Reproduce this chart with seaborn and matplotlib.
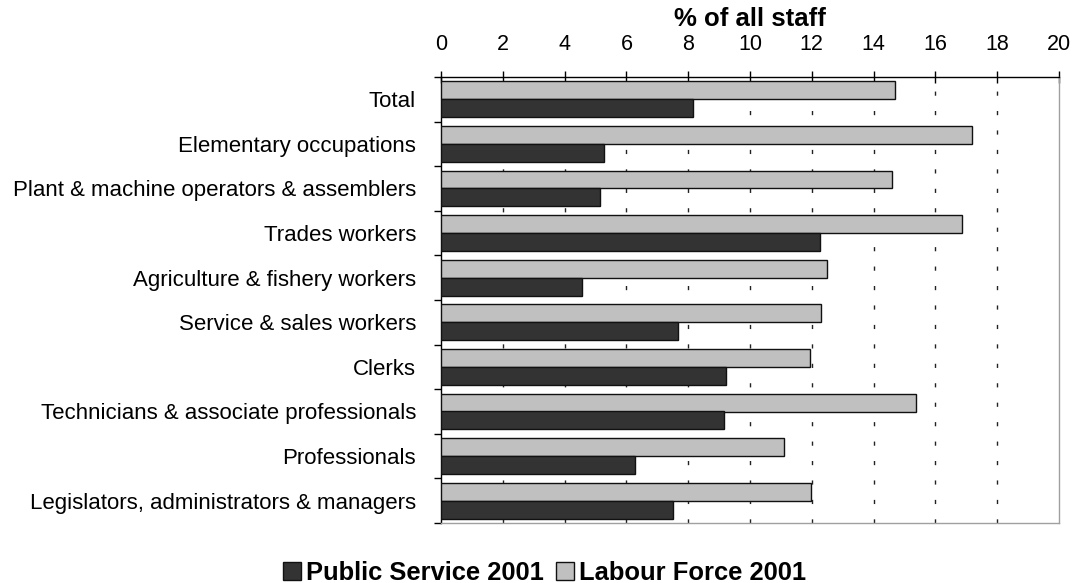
import matplotlib
matplotlib.use('Agg')
import matplotlib.pyplot as plt
import seaborn as sns
import pandas as pd
from matplotlib.patches import Patch

categories = ["Total", "Elementary occupations", "Plant & machine operators & assemblers",
              "Trades workers", "Agriculture & fishery workers", "Service & sales workers",
              "Clerks", "Technicians & associate professionals", "Professionals",
              "Legislators, administrators & managers"]
public_service = [8.16, 5.29, 5.13, 12.26, 4.57, 7.67, 9.22, 9.15, 6.27, 7.52]
labour_force = [14.68, 17.20, 14.59, 16.86, 12.49, 12.29, 11.95, 15.37, 11.10, 11.99]
series_names = ["Public Service 2001", "Labour Force 2001"]
x_ticks = [0, 2, 4, 6, 8, 10, 12, 14, 16, 18, 20]

sns.set_theme(style='white')
plt.rcParams['font.family'] = ['Liberation Sans', 'DejaVu Sans']
plt.rcParams['text.color'] = 'black'
plt.rcParams['axes.labelcolor'] = 'black'
plt.rcParams['xtick.color'] = 'black'
plt.rcParams['ytick.color'] = 'black'

df = pd.DataFrame({
    'Occupation': categories * 2,
    'Percent': public_service + labour_force,
    'Series': [series_names[0]] * len(categories) + [series_names[1]] * len(categories),
})

colors = {series_names[0]: '#333333', series_names[1]: '#C0C0C0'}

fig = plt.figure(figsize=(10.74, 5.83), dpi=100)
ax_h = 446 / 583
ax = fig.add_axes([441 / 1074, 1 - 523 / 583, 618 / 1074, ax_h])

sns.barplot(data=df, y='Occupation', x='Percent', hue='Series',
            hue_order=[series_names[1], series_names[0]], order=categories,
            palette=colors, orient='h', width=0.8, saturation=1,
            edgecolor='#111111', linewidth=1.0, ax=ax, legend=False, zorder=3)

ax.set_xlim(0, 20)
ax.set_ylim(len(categories) - 0.5, -0.5)

# dashed vertical gridlines
for t in x_ticks[1:-1]:
    ax.axvline(t, color='#222222', linewidth=1.0, linestyle=(0, (3, 11)), zorder=1)

ax.xaxis.tick_top()
ax.xaxis.set_label_position('top')
ax.set_xticks(x_ticks)
ax.set_xticklabels([str(t) for t in x_ticks])
ax.tick_params(axis='x', direction='inout', length=8, width=1, color='black',
               labelsize=15.5, pad=12, top=True, bottom=False, labelcolor='black')
ax.set_xlabel('% of all staff', fontsize=18.5, fontweight='bold', color='black')
ax.xaxis.set_label_coords(0.5, 1 + (77 - 31) / 446)
ax.xaxis.label.set_verticalalignment('bottom')

ax.set_ylabel('')
ax.set_yticks(range(len(categories)))
ax.set_yticklabels(categories)
ax.set_yticks([i - 0.5 for i in range(len(categories) + 1)], minor=True)
ax.tick_params(axis='y', which='major', length=0, labelsize=16, pad=18, labelcolor='black')
ax.tick_params(axis='y', which='minor', length=5, width=1, color='black', left=True, direction='out')

for side in ['top', 'left']:
    ax.spines[side].set_color('black')
    ax.spines[side].set_linewidth(1.0)
for side in ['right', 'bottom']:
    ax.spines[side].set_color('#A0A0A0')
    ax.spines[side].set_linewidth(1.0)

handles = [Patch(facecolor=colors[series_names[0]], edgecolor='#111111', label=series_names[0]),
           Patch(facecolor=colors[series_names[1]], edgecolor='#111111', label=series_names[1])]
fig.legend(handles=handles, loc='lower center', bbox_to_anchor=(0.507, -0.012), ncol=2,
           frameon=False, prop={'weight': 'bold', 'size': 18.4},
           handlelength=0.7, handleheight=0.7, handletextpad=0.2, columnspacing=0.45,
           borderaxespad=0.0, borderpad=0.2)

fig.savefig('out.png', dpi=100)
